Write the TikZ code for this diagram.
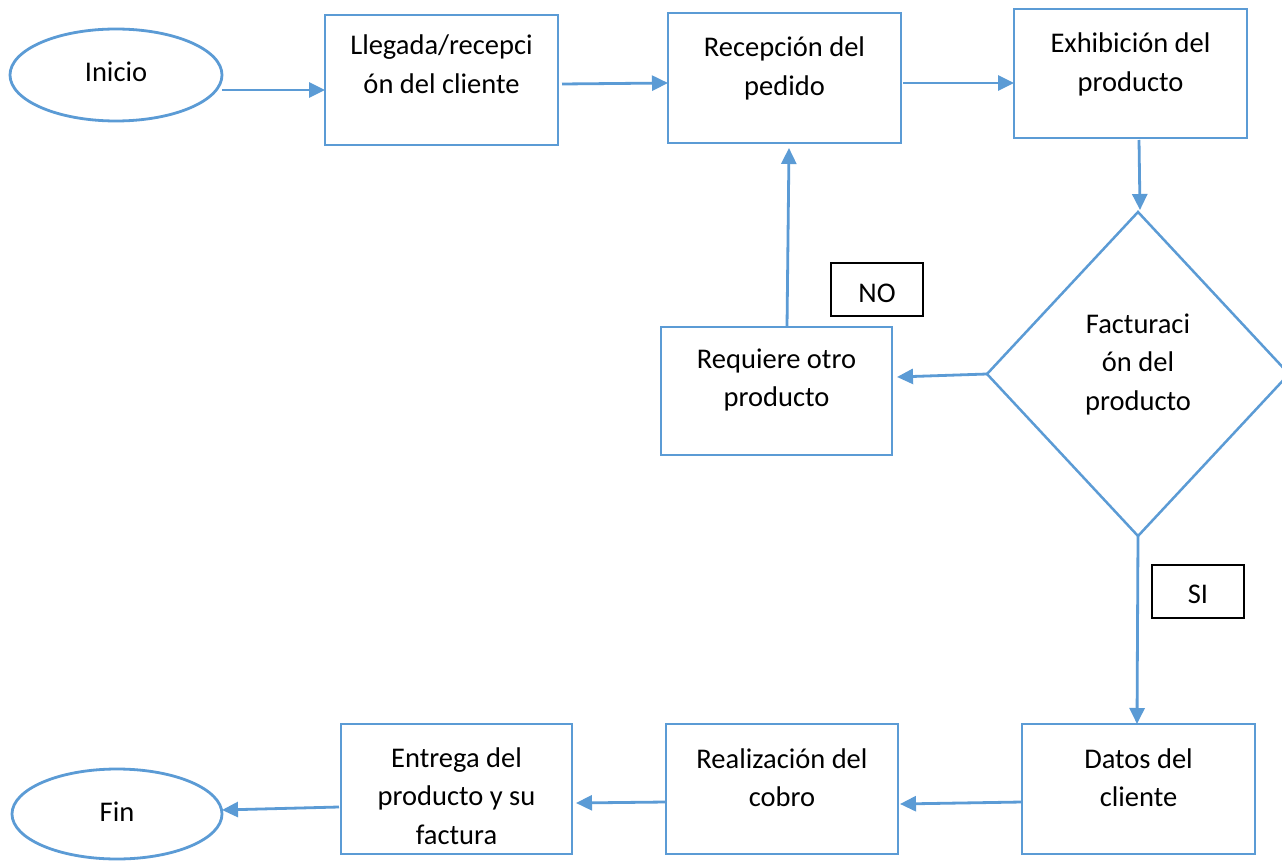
\documentclass[tikz,border=0pt]{standalone}
\usepackage{fontspec}
\setmainfont{Carlito}
\usetikzlibrary{arrows.meta,calc,shapes.geometric}
\definecolor{flowblue}{HTML}{5B9BD5}
% fixed-height strut so a text block's top sits a known distance above its first baseline
\newcommand\firstline{\rule{0pt}{24pt}}
\begin{document}
\begin{tikzpicture}[x=1pt,y=-1pt,
  every node/.style={inner sep=0pt, outer sep=0pt},
  proc/.style={draw=flowblue, line width=2.8pt, rectangle, minimum width=233pt, minimum height=130pt},
  term/.style={draw=flowblue, line width=2.8pt, ellipse, minimum width=212pt, minimum height=92pt},
  decide/.style={draw=flowblue, line width=2.5pt, diamond, minimum width=302pt, minimum height=324pt},
  tag/.style={draw=black, line width=2.2pt, rectangle, minimum width=92pt, minimum height=53pt},
  txt/.style={font=\fontsize{28.5}{38.5}\selectfont, align=center, anchor=north},
  one/.style={font=\fontsize{28.5}{34}\selectfont, anchor=base},
  arr/.style={draw=flowblue, line width=2.8pt, -{Triangle[length=16pt,width=15pt]}}
]
\useasboundingbox (0,0) rectangle (1282,861);
\fill[white] (0,0) rectangle (1282,861);

% shapes
\node[term] (ini) at (116,75) {};
\node[proc] (lleg) at (441.5,80) {};
\node[proc] (rec) at (784.5,78) {};
\node[proc, minimum height=129pt] (exh) at (1130.5,73.5) {};
\node[decide] (dia) at (1138,374) {};
\node[proc, minimum width=231pt, minimum height=128pt] (req) at (776.5,391) {};
\node[proc] (datos) at (1138.5,789) {};
\node[proc, minimum width=232pt] (real) at (782,789) {};
\node[proc, minimum width=231pt] (ent) at (456.5,789) {};
\node[term, minimum width=210pt, minimum height=90pt] (fin) at (117,814) {};
\node[tag] (no) at (877,289.5) {};
\node[tag] (si) at (1198,591.5) {};

% texts
\node[one] (tini) at (116,82) {Inicio};
\node[txt] (tlleg) at (441.5,31) {\firstline Llegada/recepci\\ón del cliente};
\node[txt] (trec) at (784.5,33) {\firstline Recepción del\\pedido};
\node[txt] (texh) at (1130.5,29) {\firstline Exhibición del\\producto};
\node[txt] (tdia) at (1138,309) {\firstline Facturaci\\ón del\\producto};
\node[txt] (treq) at (776.5,344) {\firstline Requiere otro\\producto};
\node[txt] (tdatos) at (1138.5,744) {\firstline Datos del\\cliente};
\node[txt] (treal) at (782,744) {\firstline Realización del\\cobro};
\node[txt] (tent) at (456.5,743) {\firstline Entrega del\\producto y su\\factura};
\node[one] (tfin) at (117,821) {Fin};
\node[one] (tno) at (877,302) {NO};
\node[one] (tsi) at (1198,603) {SI};

% connectors
\draw[arr] (ini.east |- 0,90) -- (lleg.west |- 0,90);
\draw[arr] ($(lleg.east)+(4,4)$) -- ($(rec.west)+(0,5)$);
\draw[arr] ($(rec.east)+(2,5)$) -- ($(exh.west)+(0,9.5)$);
\draw[arr] ($(exh.south)+(8.5,2)$) -- ($(dia.north)+(2,-2)$);
\draw[arr] (dia.west) -- ($(req.east)+(5,-14)$);
\draw[arr] ($(req.north)+(10.5,0)$) -- ($(rec.south)+(4.5,5)$);
\draw[arr] (dia.south) -- ($(datos.north)+(-1.5,0)$);
\draw[arr] ($(datos.west)+(0,13)$) -- ($(real.east)+(2,15)$);
\draw[arr] ($(real.west)+(0,13)$) -- ($(ent.east)+(4,14)$);
\draw[arr] ($(ent.west)+(-2,18)$) -- ($(fin.east)+(0,-4)$);
\end{tikzpicture}
\end{document}
